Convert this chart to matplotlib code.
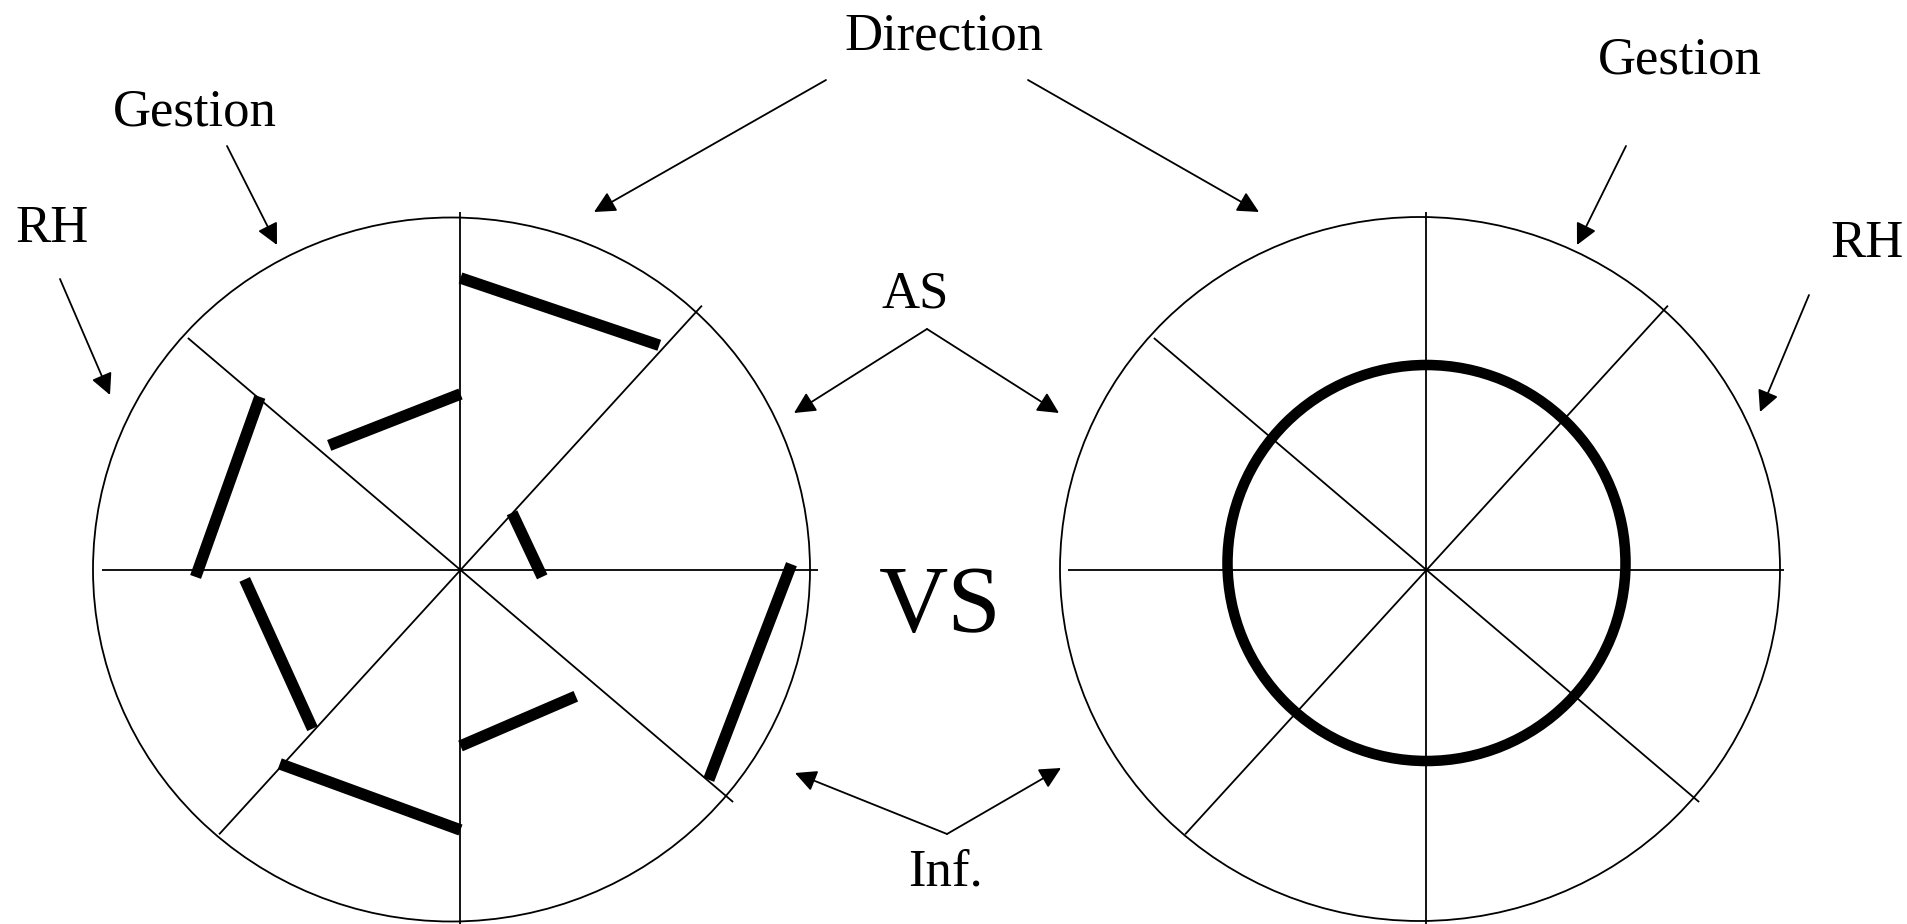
import numpy as np
import matplotlib
matplotlib.use('Agg')
import matplotlib.pyplot as plt
from matplotlib.patches import Ellipse, FancyArrowPatch

plt.rcParams['font.family'] = ['Liberation Serif', 'DejaVu Serif']

# spokes of both wheels (degrees, counter-clockwise from east)
spoke_angles = [90, 0, 47.6, 139.6]
spoke_len = 358

# left wheel: thick bars between spokes, (angle, radius) of each end
bar_start_deg = [90, 48, 1, -90, -90, -133, -178.5, 136.5]
bar_start_r = [292, 77, 331, 176, 260, 217, 265, 181]
bar_end_deg = [48.5, -4.8, -40.2, -47.6, -133, -177.5, 139.2, 90]
bar_end_r = [300, 82, 325, 171, 265, 216, 265, 176]

# right wheel: one even ring
ring_r = 199

W, H = 1908, 924
fig = plt.figure(figsize=(W / 100, H / 100), dpi=100)
ax = fig.add_axes([0, 0, 1, 1])
ax.set_xlim(0, W)
ax.set_ylim(H, 0)
ax.axis('off')

thin = 1.3


def pol(c, deg, r):
    a = np.radians(deg)
    return c[0] + r * np.cos(a), c[1] - r * np.sin(a)


def wheel(c, circ_c, circ_w, circ_h):
    ax.add_patch(Ellipse(circ_c, circ_w, circ_h, fill=False, lw=thin, ec='black'))
    for a in spoke_angles:
        x1, y1 = pol(c, a, spoke_len)
        x2, y2 = pol(c, a + 180, spoke_len)
        ax.plot([x1, x2], [y1, y2], color='black', lw=thin, solid_capstyle='butt')


left_c = (460.5, 570)
right_c = (1426.5, 570)
wheel(left_c, (451.5, 569.5), 717, 704)
wheel(right_c, (1420, 569), 720, 704)

for d1, r1, d2, r2 in zip(bar_start_deg, bar_start_r, bar_end_deg, bar_end_r):
    x1, y1 = pol(left_c, d1, r1)
    x2, y2 = pol(left_c, d2, r2)
    ax.plot([x1, x2], [y1, y2], color='black', lw=8.3, solid_capstyle='butt')

ax.add_patch(Ellipse((right_c[0], 563), 2 * ring_r, 2 * ring_r - 2, fill=False,
                     lw=7.6, ec='black'))


def arrow(tail, tip):
    ax.add_patch(FancyArrowPatch(tail, tip, arrowstyle='-|>,head_length=13,head_width=6.5',
                                 mutation_scale=1, shrinkA=0, shrinkB=0,
                                 color='black', lw=thin))


arrow((826, 80), (594, 212))
arrow((1028, 80), (1259, 212))
arrow((227, 146), (277, 245))
arrow((60, 279), (110, 395))
arrow((1626, 146), (1577, 245))
arrow((1809, 295), (1760, 412))
arrow((927, 329), (794, 413))
arrow((927, 329), (1059, 413))
arrow((947, 834), (795, 773))
arrow((947, 834), (1061, 768))

fs = 38
ax.text(944, 50, 'Direction', fontsize=fs, ha='center', va='baseline')
ax.text(195, 125, 'Gestion', fontsize=fs, ha='center', va='baseline')
ax.text(52, 242, 'RH', fontsize=fs, ha='center', va='baseline')
ax.text(1680, 74, 'Gestion', fontsize=fs, ha='center', va='baseline')
ax.text(1867, 257, 'RH', fontsize=fs, ha='center', va='baseline')
ax.text(915, 307, 'AS', fontsize=fs, ha='center', va='baseline')
ax.text(946, 885, 'Inf.', fontsize=fs, ha='center', va='baseline')
ax.text(940, 632, 'VS', fontsize=69, ha='center', va='baseline')

fig.savefig('out.png', dpi=100)
